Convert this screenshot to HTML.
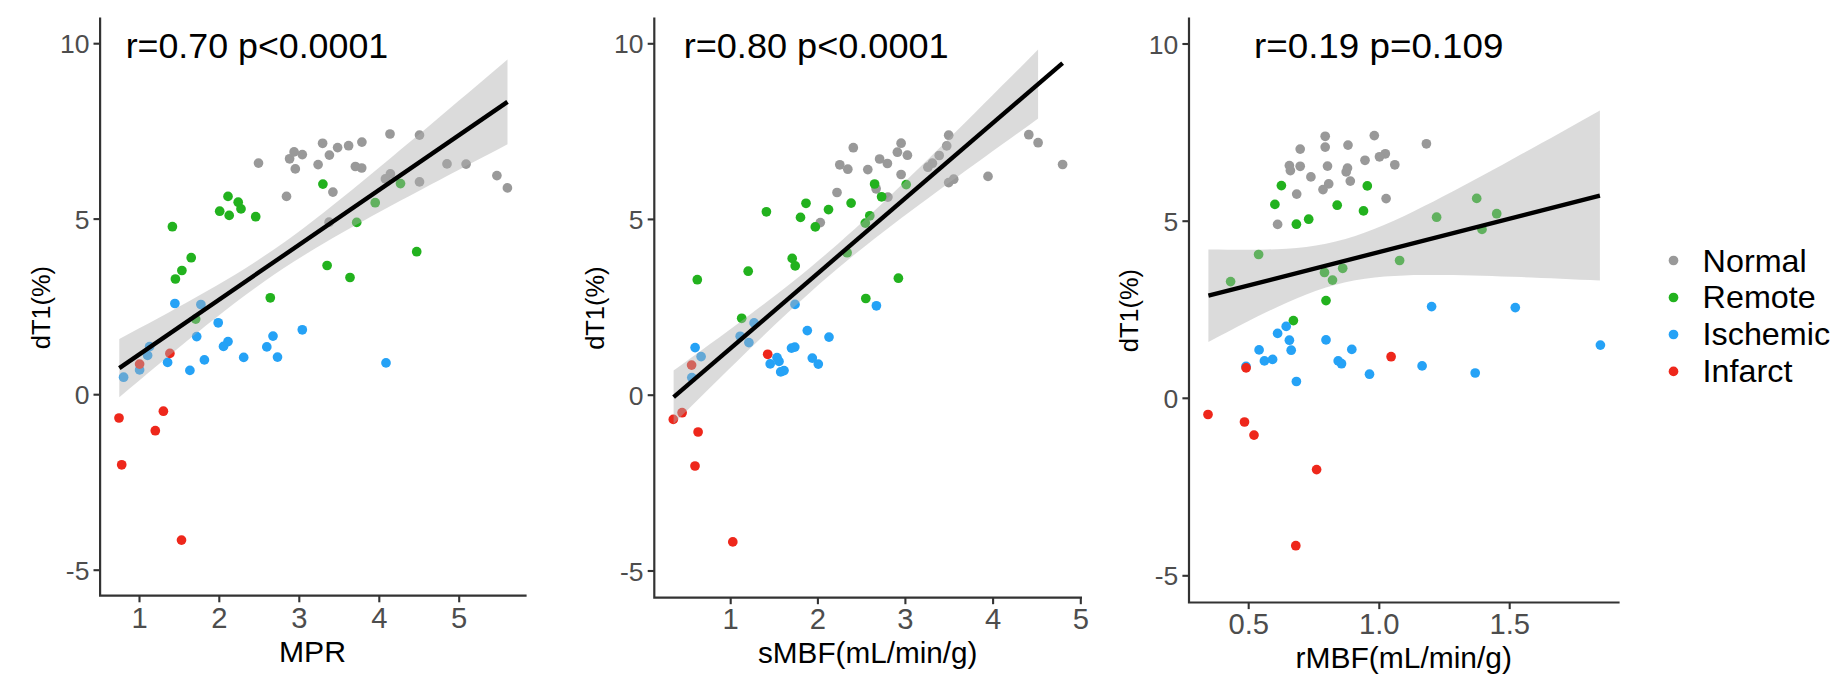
<!DOCTYPE html>
<html><head><meta charset="utf-8"><title>dT1 correlation plots</title>
<style>
html,body{margin:0;padding:0;background:#fff;}
svg{display:block;font-family:"Liberation Sans", Arial, Helvetica, sans-serif;}
</style></head>
<body>
<svg width="1834" height="695" viewBox="0 0 1834 695">
<rect width="1834" height="695" fill="#fff"/>
<g id="panel1">
<circle cx="258.5" cy="163.1" r="4.85" fill="#999999"/><circle cx="289.6" cy="158.8" r="4.85" fill="#999999"/><circle cx="294.1" cy="151.9" r="4.85" fill="#999999"/><circle cx="302.3" cy="154.6" r="4.85" fill="#999999"/><circle cx="295.3" cy="168.9" r="4.85" fill="#999999"/><circle cx="318.1" cy="164.6" r="4.85" fill="#999999"/><circle cx="322.6" cy="143.3" r="4.85" fill="#999999"/><circle cx="329.4" cy="155.1" r="4.85" fill="#999999"/><circle cx="337.6" cy="147.6" r="4.85" fill="#999999"/><circle cx="348.6" cy="145.7" r="4.85" fill="#999999"/><circle cx="361.9" cy="142.1" r="4.85" fill="#999999"/><circle cx="355.4" cy="166.5" r="4.85" fill="#999999"/><circle cx="361.7" cy="168.0" r="4.85" fill="#999999"/><circle cx="390.0" cy="134.0" r="4.85" fill="#999999"/><circle cx="419.5" cy="135.1" r="4.85" fill="#999999"/><circle cx="447.0" cy="163.9" r="4.85" fill="#999999"/><circle cx="466.1" cy="164.1" r="4.85" fill="#999999"/><circle cx="496.9" cy="175.6" r="4.85" fill="#999999"/><circle cx="507.4" cy="187.9" r="4.85" fill="#999999"/><circle cx="419.5" cy="181.9" r="4.85" fill="#999999"/><circle cx="390.4" cy="173.9" r="4.85" fill="#999999"/><circle cx="385.4" cy="178.9" r="4.85" fill="#999999"/><circle cx="332.9" cy="192.1" r="4.85" fill="#999999"/><circle cx="286.5" cy="196.4" r="4.85" fill="#999999"/><circle cx="329.1" cy="222.2" r="4.85" fill="#999999"/>
<circle cx="322.9" cy="184.1" r="4.85" fill="#22B21E"/><circle cx="228.0" cy="196.4" r="4.85" fill="#22B21E"/><circle cx="238.2" cy="202.2" r="4.85" fill="#22B21E"/><circle cx="241.0" cy="208.9" r="4.85" fill="#22B21E"/><circle cx="219.7" cy="211.2" r="4.85" fill="#22B21E"/><circle cx="229.2" cy="215.4" r="4.85" fill="#22B21E"/><circle cx="255.7" cy="216.7" r="4.85" fill="#22B21E"/><circle cx="172.4" cy="226.7" r="4.85" fill="#22B21E"/><circle cx="400.5" cy="183.6" r="4.85" fill="#22B21E"/><circle cx="375.2" cy="202.7" r="4.85" fill="#22B21E"/><circle cx="356.7" cy="222.4" r="4.85" fill="#22B21E"/><circle cx="416.7" cy="251.7" r="4.85" fill="#22B21E"/><circle cx="327.1" cy="265.5" r="4.85" fill="#22B21E"/><circle cx="191.2" cy="257.7" r="4.85" fill="#22B21E"/><circle cx="181.9" cy="270.5" r="4.85" fill="#22B21E"/><circle cx="175.4" cy="279.0" r="4.85" fill="#22B21E"/><circle cx="350.0" cy="277.5" r="4.85" fill="#22B21E"/><circle cx="270.3" cy="297.8" r="4.85" fill="#22B21E"/><circle cx="195.7" cy="319.1" r="4.85" fill="#22B21E"/>
<circle cx="174.9" cy="303.5" r="4.85" fill="#25A2F6"/><circle cx="200.9" cy="304.5" r="4.85" fill="#25A2F6"/><circle cx="218.2" cy="322.8" r="4.85" fill="#25A2F6"/><circle cx="196.7" cy="336.6" r="4.85" fill="#25A2F6"/><circle cx="302.3" cy="329.8" r="4.85" fill="#25A2F6"/><circle cx="273.0" cy="336.1" r="4.85" fill="#25A2F6"/><circle cx="266.8" cy="346.9" r="4.85" fill="#25A2F6"/><circle cx="228.0" cy="341.6" r="4.85" fill="#25A2F6"/><circle cx="223.5" cy="346.4" r="4.85" fill="#25A2F6"/><circle cx="243.7" cy="357.4" r="4.85" fill="#25A2F6"/><circle cx="277.5" cy="357.1" r="4.85" fill="#25A2F6"/><circle cx="204.4" cy="359.9" r="4.85" fill="#25A2F6"/><circle cx="189.9" cy="370.4" r="4.85" fill="#25A2F6"/><circle cx="167.6" cy="362.4" r="4.85" fill="#25A2F6"/><circle cx="386.0" cy="362.9" r="4.85" fill="#25A2F6"/><circle cx="149.6" cy="346.6" r="4.85" fill="#25A2F6"/><circle cx="147.6" cy="355.4" r="4.85" fill="#25A2F6"/><circle cx="139.6" cy="369.9" r="4.85" fill="#25A2F6"/><circle cx="123.6" cy="377.2" r="4.85" fill="#25A2F6"/>
<circle cx="169.9" cy="353.4" r="4.85" fill="#EE271B"/><circle cx="139.6" cy="364.1" r="4.85" fill="#EE271B"/><circle cx="119.0" cy="418.0" r="4.85" fill="#EE271B"/><circle cx="163.4" cy="411.2" r="4.85" fill="#EE271B"/><circle cx="155.3" cy="430.7" r="4.85" fill="#EE271B"/><circle cx="121.7" cy="464.8" r="4.85" fill="#EE271B"/><circle cx="181.5" cy="540.1" r="4.85" fill="#EE271B"/>
<path d="M119.3,339.0 L129.0,333.8 L138.7,328.6 L148.4,323.4 L158.1,318.2 L167.8,312.9 L177.5,307.6 L187.2,302.2 L196.9,296.8 L206.6,291.3 L216.3,285.7 L226.1,280.0 L235.8,274.2 L245.5,268.2 L255.2,262.0 L264.9,255.6 L274.6,249.0 L284.3,242.2 L294.0,235.2 L303.7,227.9 L313.4,220.5 L323.1,213.0 L332.8,205.3 L342.5,197.5 L352.2,189.7 L361.9,181.8 L371.6,173.8 L381.3,165.8 L391.0,157.7 L400.7,149.6 L410.4,141.5 L420.2,133.4 L429.9,125.2 L439.6,117.0 L449.3,108.8 L459.0,100.6 L468.7,92.4 L478.4,84.2 L488.1,76.0 L497.8,67.7 L507.5,59.5 L507.5,144.3 L497.8,149.4 L488.1,154.5 L478.4,159.5 L468.7,164.6 L459.0,169.7 L449.3,174.8 L439.6,179.9 L429.9,185.1 L420.2,190.2 L410.4,195.4 L400.7,200.6 L391.0,205.8 L381.3,211.1 L371.6,216.3 L361.9,221.7 L352.2,227.1 L342.5,232.5 L332.8,238.1 L323.1,243.7 L313.4,249.5 L303.7,255.4 L294.0,261.5 L284.3,267.7 L274.6,274.2 L264.9,280.9 L255.2,287.9 L245.5,295.0 L235.8,302.3 L226.1,309.8 L216.3,317.4 L206.6,325.1 L196.9,332.9 L187.2,340.8 L177.5,348.7 L167.8,356.7 L158.1,364.8 L148.4,372.8 L138.7,381.0 L129.0,389.1 L119.3,397.2Z" fill="#AFAFAF" fill-opacity="0.45"/>
<line x1="119.3" y1="368.1" x2="507.5" y2="101.9" stroke="#000" stroke-width="4.35"/>
<path d="M100.1,17.5 V595.7 H526.6" fill="none" stroke="#333333" stroke-width="2.2" stroke-linejoin="miter"/>
<line x1="93.5" y1="43.7" x2="100.1" y2="43.7" stroke="#333333" stroke-width="2.1"/>
<text x="89.4" y="53.2" font-size="26.5" text-anchor="end" fill="#4D4D4D">10</text>
<line x1="93.5" y1="219.1" x2="100.1" y2="219.1" stroke="#333333" stroke-width="2.1"/>
<text x="89.4" y="228.6" font-size="26.5" text-anchor="end" fill="#4D4D4D">5</text>
<line x1="93.5" y1="394.7" x2="100.1" y2="394.7" stroke="#333333" stroke-width="2.1"/>
<text x="89.4" y="404.2" font-size="26.5" text-anchor="end" fill="#4D4D4D">0</text>
<line x1="93.5" y1="570.2" x2="100.1" y2="570.2" stroke="#333333" stroke-width="2.1"/>
<text x="89.4" y="579.7" font-size="26.5" text-anchor="end" fill="#4D4D4D">-5</text>
<line x1="139.5" y1="595.7" x2="139.5" y2="602.3000000000001" stroke="#333333" stroke-width="2.1"/>
<text x="139.5" y="627.8" font-size="29.2" text-anchor="middle" fill="#4D4D4D">1</text>
<line x1="219.3" y1="595.7" x2="219.3" y2="602.3000000000001" stroke="#333333" stroke-width="2.1"/>
<text x="219.3" y="627.8" font-size="29.2" text-anchor="middle" fill="#4D4D4D">2</text>
<line x1="299.3" y1="595.7" x2="299.3" y2="602.3000000000001" stroke="#333333" stroke-width="2.1"/>
<text x="299.3" y="627.8" font-size="29.2" text-anchor="middle" fill="#4D4D4D">3</text>
<line x1="379.3" y1="595.7" x2="379.3" y2="602.3000000000001" stroke="#333333" stroke-width="2.1"/>
<text x="379.3" y="627.8" font-size="29.2" text-anchor="middle" fill="#4D4D4D">4</text>
<line x1="459.2" y1="595.7" x2="459.2" y2="602.3000000000001" stroke="#333333" stroke-width="2.1"/>
<text x="459.2" y="627.8" font-size="29.2" text-anchor="middle" fill="#4D4D4D">5</text>
<text x="125.7" y="58.1" font-size="35.4" text-anchor="start" fill="#000" textLength="262.5" lengthAdjust="spacingAndGlyphs">r=0.70 p&lt;0.0001</text>
<text x="279.0" y="661.8" font-size="28.6" text-anchor="start" fill="#000" textLength="67.0" lengthAdjust="spacingAndGlyphs">MPR</text>
<text transform="translate(50.0,307.6) rotate(-90)" font-size="25.8" text-anchor="middle" textLength="83.1" lengthAdjust="spacingAndGlyphs">dT1(%)</text>
</g>
<g id="panel2">
<circle cx="853.3" cy="147.7" r="4.85" fill="#999999"/><circle cx="901.1" cy="143.2" r="4.85" fill="#999999"/><circle cx="897.4" cy="152.2" r="4.85" fill="#999999"/><circle cx="907.4" cy="155.2" r="4.85" fill="#999999"/><circle cx="879.6" cy="159.0" r="4.85" fill="#999999"/><circle cx="887.4" cy="163.5" r="4.85" fill="#999999"/><circle cx="839.8" cy="164.8" r="4.85" fill="#999999"/><circle cx="847.8" cy="169.2" r="4.85" fill="#999999"/><circle cx="867.8" cy="169.6" r="4.85" fill="#999999"/><circle cx="901.1" cy="174.5" r="4.85" fill="#999999"/><circle cx="948.7" cy="135.2" r="4.85" fill="#999999"/><circle cx="946.7" cy="145.9" r="4.85" fill="#999999"/><circle cx="939.2" cy="155.5" r="4.85" fill="#999999"/><circle cx="932.4" cy="163.2" r="4.85" fill="#999999"/><circle cx="927.9" cy="167.2" r="4.85" fill="#999999"/><circle cx="953.7" cy="179.2" r="4.85" fill="#999999"/><circle cx="948.7" cy="182.6" r="4.85" fill="#999999"/><circle cx="988.0" cy="176.4" r="4.85" fill="#999999"/><circle cx="1028.8" cy="134.7" r="4.85" fill="#999999"/><circle cx="1038.1" cy="142.7" r="4.85" fill="#999999"/><circle cx="1062.6" cy="164.5" r="4.85" fill="#999999"/><circle cx="837.0" cy="192.5" r="4.85" fill="#999999"/><circle cx="876.1" cy="188.8" r="4.85" fill="#999999"/><circle cx="887.9" cy="197.1" r="4.85" fill="#999999"/><circle cx="820.3" cy="222.6" r="4.85" fill="#999999"/>
<circle cx="874.6" cy="184.0" r="4.85" fill="#22B21E"/><circle cx="906.2" cy="184.6" r="4.85" fill="#22B21E"/><circle cx="881.6" cy="196.8" r="4.85" fill="#22B21E"/><circle cx="851.1" cy="203.1" r="4.85" fill="#22B21E"/><circle cx="806.0" cy="203.3" r="4.85" fill="#22B21E"/><circle cx="828.5" cy="209.6" r="4.85" fill="#22B21E"/><circle cx="766.4" cy="211.8" r="4.85" fill="#22B21E"/><circle cx="800.5" cy="217.4" r="4.85" fill="#22B21E"/><circle cx="815.3" cy="226.9" r="4.85" fill="#22B21E"/><circle cx="869.8" cy="215.8" r="4.85" fill="#22B21E"/><circle cx="865.3" cy="223.1" r="4.85" fill="#22B21E"/><circle cx="847.1" cy="252.7" r="4.85" fill="#22B21E"/><circle cx="792.2" cy="258.4" r="4.85" fill="#22B21E"/><circle cx="795.2" cy="265.9" r="4.85" fill="#22B21E"/><circle cx="748.2" cy="271.2" r="4.85" fill="#22B21E"/><circle cx="697.3" cy="279.7" r="4.85" fill="#22B21E"/><circle cx="898.4" cy="278.2" r="4.85" fill="#22B21E"/><circle cx="865.8" cy="298.5" r="4.85" fill="#22B21E"/><circle cx="741.7" cy="318.3" r="4.85" fill="#22B21E"/>
<circle cx="795.0" cy="304.4" r="4.85" fill="#25A2F6"/><circle cx="876.4" cy="305.8" r="4.85" fill="#25A2F6"/><circle cx="754.1" cy="322.9" r="4.85" fill="#25A2F6"/><circle cx="740.2" cy="336.3" r="4.85" fill="#25A2F6"/><circle cx="748.9" cy="342.6" r="4.85" fill="#25A2F6"/><circle cx="807.3" cy="330.6" r="4.85" fill="#25A2F6"/><circle cx="829.0" cy="337.1" r="4.85" fill="#25A2F6"/><circle cx="695.1" cy="347.6" r="4.85" fill="#25A2F6"/><circle cx="701.1" cy="356.6" r="4.85" fill="#25A2F6"/><circle cx="691.8" cy="377.6" r="4.85" fill="#25A2F6"/><circle cx="791.5" cy="348.1" r="4.85" fill="#25A2F6"/><circle cx="794.8" cy="347.1" r="4.85" fill="#25A2F6"/><circle cx="777.0" cy="357.6" r="4.85" fill="#25A2F6"/><circle cx="779.0" cy="361.4" r="4.85" fill="#25A2F6"/><circle cx="770.2" cy="363.9" r="4.85" fill="#25A2F6"/><circle cx="780.7" cy="371.9" r="4.85" fill="#25A2F6"/><circle cx="784.0" cy="370.6" r="4.85" fill="#25A2F6"/><circle cx="812.3" cy="358.1" r="4.85" fill="#25A2F6"/><circle cx="818.3" cy="364.1" r="4.85" fill="#25A2F6"/>
<circle cx="767.7" cy="354.3" r="4.85" fill="#EE271B"/><circle cx="691.6" cy="365.1" r="4.85" fill="#EE271B"/><circle cx="682.1" cy="412.7" r="4.85" fill="#EE271B"/><circle cx="673.3" cy="419.4" r="4.85" fill="#EE271B"/><circle cx="698.1" cy="432.0" r="4.85" fill="#EE271B"/><circle cx="695.0" cy="466.0" r="4.85" fill="#EE271B"/><circle cx="732.8" cy="541.9" r="4.85" fill="#EE271B"/>
<path d="M673.6,370.5 L682.7,363.9 L691.8,357.3 L700.9,350.7 L710.0,344.0 L719.2,337.4 L728.3,330.7 L737.4,323.9 L746.5,317.2 L755.6,310.3 L764.7,303.4 L773.8,296.4 L782.9,289.4 L792.1,282.2 L801.2,274.9 L810.3,267.4 L819.4,259.8 L828.5,252.1 L837.6,244.2 L846.7,236.1 L855.8,227.9 L865.0,219.5 L874.1,211.1 L883.2,202.5 L892.3,193.8 L901.4,185.0 L910.5,176.2 L919.6,167.4 L928.8,158.4 L937.9,149.5 L947.0,140.5 L956.1,131.5 L965.2,122.5 L974.3,113.4 L983.4,104.3 L992.5,95.2 L1001.6,86.1 L1010.8,77.0 L1019.9,67.9 L1029.0,58.8 L1038.1,49.6 L1038.1,118.6 L1029.0,125.2 L1019.9,131.7 L1010.8,138.2 L1001.6,144.8 L992.5,151.3 L983.4,157.9 L974.3,164.5 L965.2,171.0 L956.1,177.7 L947.0,184.3 L937.9,191.0 L928.8,197.7 L919.6,204.4 L910.5,211.2 L901.4,218.0 L892.3,224.9 L883.2,231.9 L874.1,239.0 L865.0,246.2 L855.8,253.4 L846.7,260.9 L837.6,268.5 L828.5,276.2 L819.4,284.1 L810.3,292.2 L801.2,300.4 L792.1,308.7 L782.9,317.2 L773.8,325.8 L764.7,334.5 L755.6,343.2 L746.5,352.0 L737.4,360.9 L728.3,369.8 L719.2,378.8 L710.0,387.7 L700.9,396.8 L691.8,405.8 L682.7,414.8 L673.6,423.9Z" fill="#AFAFAF" fill-opacity="0.45"/>
<line x1="673.6" y1="397.2" x2="1062.6" y2="63.1" stroke="#000" stroke-width="4.35"/>
<path d="M654.3,17.5 V597.6 H1082" fill="none" stroke="#333333" stroke-width="2.2" stroke-linejoin="miter"/>
<line x1="647.6999999999999" y1="43.8" x2="654.3" y2="43.8" stroke="#333333" stroke-width="2.1"/>
<text x="643.6" y="53.3" font-size="26.5" text-anchor="end" fill="#4D4D4D">10</text>
<line x1="647.6999999999999" y1="219.4" x2="654.3" y2="219.4" stroke="#333333" stroke-width="2.1"/>
<text x="643.6" y="228.9" font-size="26.5" text-anchor="end" fill="#4D4D4D">5</text>
<line x1="647.6999999999999" y1="395.2" x2="654.3" y2="395.2" stroke="#333333" stroke-width="2.1"/>
<text x="643.6" y="404.7" font-size="26.5" text-anchor="end" fill="#4D4D4D">0</text>
<line x1="647.6999999999999" y1="571" x2="654.3" y2="571" stroke="#333333" stroke-width="2.1"/>
<text x="643.6" y="580.5" font-size="26.5" text-anchor="end" fill="#4D4D4D">-5</text>
<line x1="730.7" y1="597.6" x2="730.7" y2="604.2" stroke="#333333" stroke-width="2.1"/>
<text x="730.7" y="629.3" font-size="29.2" text-anchor="middle" fill="#4D4D4D">1</text>
<line x1="817.9" y1="597.6" x2="817.9" y2="604.2" stroke="#333333" stroke-width="2.1"/>
<text x="817.9" y="629.3" font-size="29.2" text-anchor="middle" fill="#4D4D4D">2</text>
<line x1="905.4" y1="597.6" x2="905.4" y2="604.2" stroke="#333333" stroke-width="2.1"/>
<text x="905.4" y="629.3" font-size="29.2" text-anchor="middle" fill="#4D4D4D">3</text>
<line x1="993.1" y1="597.6" x2="993.1" y2="604.2" stroke="#333333" stroke-width="2.1"/>
<text x="993.1" y="629.3" font-size="29.2" text-anchor="middle" fill="#4D4D4D">4</text>
<line x1="1080.8" y1="597.6" x2="1080.8" y2="604.2" stroke="#333333" stroke-width="2.1"/>
<text x="1080.8" y="629.3" font-size="29.2" text-anchor="middle" fill="#4D4D4D">5</text>
<text x="683.7" y="58.0" font-size="35.4" text-anchor="start" fill="#000" textLength="265.0" lengthAdjust="spacingAndGlyphs">r=0.80 p&lt;0.0001</text>
<text x="758.0" y="663.1" font-size="28.6" text-anchor="start" fill="#000" textLength="219.5" lengthAdjust="spacingAndGlyphs">sMBF(mL/min/g)</text>
<text transform="translate(604.1,308.2) rotate(-90)" font-size="25.8" text-anchor="middle" textLength="83.3" lengthAdjust="spacingAndGlyphs">dT1(%)</text>
</g>
<g id="panel3">
<circle cx="1325.2" cy="136.3" r="4.85" fill="#999999"/><circle cx="1374.3" cy="135.6" r="4.85" fill="#999999"/><circle cx="1300.2" cy="149.1" r="4.85" fill="#999999"/><circle cx="1325.2" cy="147.1" r="4.85" fill="#999999"/><circle cx="1348.0" cy="145.1" r="4.85" fill="#999999"/><circle cx="1426.4" cy="143.8" r="4.85" fill="#999999"/><circle cx="1385.3" cy="153.8" r="4.85" fill="#999999"/><circle cx="1379.5" cy="156.8" r="4.85" fill="#999999"/><circle cx="1365.0" cy="160.3" r="4.85" fill="#999999"/><circle cx="1394.8" cy="164.8" r="4.85" fill="#999999"/><circle cx="1289.4" cy="165.6" r="4.85" fill="#999999"/><circle cx="1290.4" cy="170.6" r="4.85" fill="#999999"/><circle cx="1300.2" cy="166.3" r="4.85" fill="#999999"/><circle cx="1327.5" cy="166.1" r="4.85" fill="#999999"/><circle cx="1347.5" cy="168.1" r="4.85" fill="#999999"/><circle cx="1346.2" cy="171.9" r="4.85" fill="#999999"/><circle cx="1310.9" cy="176.9" r="4.85" fill="#999999"/><circle cx="1350.3" cy="181.1" r="4.85" fill="#999999"/><circle cx="1328.7" cy="183.9" r="4.85" fill="#999999"/><circle cx="1323.0" cy="189.6" r="4.85" fill="#999999"/><circle cx="1296.7" cy="194.1" r="4.85" fill="#999999"/><circle cx="1386.1" cy="198.6" r="4.85" fill="#999999"/><circle cx="1277.6" cy="224.4" r="4.85" fill="#999999"/>
<circle cx="1281.4" cy="185.6" r="4.85" fill="#22B21E"/><circle cx="1367.3" cy="185.9" r="4.85" fill="#22B21E"/><circle cx="1274.9" cy="204.4" r="4.85" fill="#22B21E"/><circle cx="1337.2" cy="205.2" r="4.85" fill="#22B21E"/><circle cx="1363.5" cy="210.9" r="4.85" fill="#22B21E"/><circle cx="1308.7" cy="219.2" r="4.85" fill="#22B21E"/><circle cx="1296.4" cy="224.2" r="4.85" fill="#22B21E"/><circle cx="1476.7" cy="198.4" r="4.85" fill="#22B21E"/><circle cx="1496.7" cy="213.7" r="4.85" fill="#22B21E"/><circle cx="1436.6" cy="217.2" r="4.85" fill="#22B21E"/><circle cx="1482.0" cy="229.4" r="4.85" fill="#22B21E"/><circle cx="1258.6" cy="254.5" r="4.85" fill="#22B21E"/><circle cx="1399.6" cy="260.5" r="4.85" fill="#22B21E"/><circle cx="1342.7" cy="268.3" r="4.85" fill="#22B21E"/><circle cx="1324.5" cy="272.5" r="4.85" fill="#22B21E"/><circle cx="1332.5" cy="280.1" r="4.85" fill="#22B21E"/><circle cx="1230.6" cy="281.6" r="4.85" fill="#22B21E"/><circle cx="1326.0" cy="300.6" r="4.85" fill="#22B21E"/><circle cx="1293.4" cy="320.6" r="4.85" fill="#22B21E"/>
<circle cx="1431.6" cy="306.6" r="4.85" fill="#25A2F6"/><circle cx="1515.3" cy="307.6" r="4.85" fill="#25A2F6"/><circle cx="1600.4" cy="345.1" r="4.85" fill="#25A2F6"/><circle cx="1286.2" cy="326.4" r="4.85" fill="#25A2F6"/><circle cx="1277.6" cy="333.4" r="4.85" fill="#25A2F6"/><circle cx="1289.4" cy="340.2" r="4.85" fill="#25A2F6"/><circle cx="1326.0" cy="339.9" r="4.85" fill="#25A2F6"/><circle cx="1291.2" cy="350.2" r="4.85" fill="#25A2F6"/><circle cx="1259.1" cy="349.9" r="4.85" fill="#25A2F6"/><circle cx="1351.8" cy="349.4" r="4.85" fill="#25A2F6"/><circle cx="1264.4" cy="360.9" r="4.85" fill="#25A2F6"/><circle cx="1272.6" cy="359.4" r="4.85" fill="#25A2F6"/><circle cx="1338.2" cy="360.9" r="4.85" fill="#25A2F6"/><circle cx="1341.5" cy="363.7" r="4.85" fill="#25A2F6"/><circle cx="1369.5" cy="374.2" r="4.85" fill="#25A2F6"/><circle cx="1422.1" cy="365.9" r="4.85" fill="#25A2F6"/><circle cx="1475.2" cy="373.0" r="4.85" fill="#25A2F6"/><circle cx="1296.4" cy="381.5" r="4.85" fill="#25A2F6"/><circle cx="1246.0" cy="366.4" r="4.85" fill="#25A2F6"/>
<circle cx="1391.1" cy="356.7" r="4.85" fill="#EE271B"/><circle cx="1246.1" cy="367.9" r="4.85" fill="#EE271B"/><circle cx="1208.0" cy="414.5" r="4.85" fill="#EE271B"/><circle cx="1244.5" cy="422.0" r="4.85" fill="#EE271B"/><circle cx="1254.0" cy="435.1" r="4.85" fill="#EE271B"/><circle cx="1316.6" cy="469.6" r="4.85" fill="#EE271B"/><circle cx="1295.8" cy="545.7" r="4.85" fill="#EE271B"/>
<path d="M1208.4,249.4 L1218.2,249.6 L1228.0,249.7 L1237.8,249.8 L1247.6,249.8 L1257.3,249.7 L1267.1,249.5 L1276.9,249.2 L1286.7,248.7 L1296.5,247.9 L1306.3,246.9 L1316.1,245.5 L1325.9,243.8 L1335.6,241.6 L1345.4,239.1 L1355.2,236.0 L1365.0,232.6 L1374.8,228.8 L1384.6,224.8 L1394.4,220.4 L1404.2,215.9 L1413.9,211.2 L1423.7,206.3 L1433.5,201.4 L1443.3,196.3 L1453.1,191.2 L1462.9,186.0 L1472.7,180.8 L1482.5,175.5 L1492.2,170.2 L1502.0,164.9 L1511.8,159.5 L1521.6,154.1 L1531.4,148.7 L1541.2,143.3 L1551.0,137.9 L1560.8,132.5 L1570.5,127.0 L1580.3,121.5 L1590.1,116.1 L1599.9,110.6 L1599.9,280.6 L1590.1,280.1 L1580.3,279.7 L1570.5,279.2 L1560.8,278.8 L1551.0,278.3 L1541.2,277.9 L1531.4,277.5 L1521.6,277.1 L1511.8,276.7 L1502.0,276.4 L1492.2,276.0 L1482.5,275.7 L1472.7,275.5 L1462.9,275.3 L1453.1,275.1 L1443.3,275.0 L1433.5,274.9 L1423.7,275.0 L1413.9,275.1 L1404.2,275.4 L1394.4,275.9 L1384.6,276.6 L1374.8,277.5 L1365.0,278.7 L1355.2,280.3 L1345.4,282.3 L1335.6,284.7 L1325.9,287.5 L1316.1,290.8 L1306.3,294.5 L1296.5,298.5 L1286.7,302.7 L1276.9,307.2 L1267.1,311.8 L1257.3,316.6 L1247.6,321.6 L1237.8,326.6 L1228.0,331.7 L1218.2,336.8 L1208.4,342.0Z" fill="#AFAFAF" fill-opacity="0.45"/>
<line x1="1208.4" y1="295.7" x2="1599.9" y2="195.6" stroke="#000" stroke-width="4.35"/>
<path d="M1189.0,17.5 V602.5 H1619.6" fill="none" stroke="#333333" stroke-width="2.2" stroke-linejoin="miter"/>
<line x1="1182.4" y1="44" x2="1189.0" y2="44" stroke="#333333" stroke-width="2.1"/>
<text x="1178.3" y="53.5" font-size="26.5" text-anchor="end" fill="#4D4D4D">10</text>
<line x1="1182.4" y1="221.2" x2="1189.0" y2="221.2" stroke="#333333" stroke-width="2.1"/>
<text x="1178.3" y="230.7" font-size="26.5" text-anchor="end" fill="#4D4D4D">5</text>
<line x1="1182.4" y1="398.3" x2="1189.0" y2="398.3" stroke="#333333" stroke-width="2.1"/>
<text x="1178.3" y="407.8" font-size="26.5" text-anchor="end" fill="#4D4D4D">0</text>
<line x1="1182.4" y1="575.8" x2="1189.0" y2="575.8" stroke="#333333" stroke-width="2.1"/>
<text x="1178.3" y="585.3" font-size="26.5" text-anchor="end" fill="#4D4D4D">-5</text>
<line x1="1248.7" y1="602.5" x2="1248.7" y2="609.1" stroke="#333333" stroke-width="2.1"/>
<text x="1248.7" y="634.4" font-size="29.2" text-anchor="middle" fill="#4D4D4D">0.5</text>
<line x1="1379.3" y1="602.5" x2="1379.3" y2="609.1" stroke="#333333" stroke-width="2.1"/>
<text x="1379.3" y="634.4" font-size="29.2" text-anchor="middle" fill="#4D4D4D">1.0</text>
<line x1="1509.7" y1="602.5" x2="1509.7" y2="609.1" stroke="#333333" stroke-width="2.1"/>
<text x="1509.7" y="634.4" font-size="29.2" text-anchor="middle" fill="#4D4D4D">1.5</text>
<text x="1254.0" y="58.0" font-size="35.4" text-anchor="start" fill="#000" textLength="249.4" lengthAdjust="spacingAndGlyphs">r=0.19 p=0.109</text>
<text x="1295.5" y="667.9" font-size="28.6" text-anchor="start" fill="#000" textLength="216.5" lengthAdjust="spacingAndGlyphs">rMBF(mL/min/g)</text>
<text transform="translate(1138.3,310.6) rotate(-90)" font-size="25.8" text-anchor="middle" textLength="83.1" lengthAdjust="spacingAndGlyphs">dT1(%)</text>
</g>
<g id="legend">
<circle cx="1673.5" cy="260.5" r="4.85" fill="#999999"/>
<text transform="translate(1702.6,271.7) scale(1.036,1)" font-size="31.2">Normal</text>
<circle cx="1673.5" cy="297.5" r="4.85" fill="#22B21E"/>
<text transform="translate(1702.6,308.4) scale(1.036,1)" font-size="31.2">Remote</text>
<circle cx="1673.5" cy="334.5" r="4.85" fill="#25A2F6"/>
<text transform="translate(1702.6,345.1) scale(1.036,1)" font-size="31.2">Ischemic</text>
<circle cx="1673.5" cy="371.4" r="4.85" fill="#EE271B"/>
<text transform="translate(1702.6,382.0) scale(1.036,1)" font-size="31.2">Infarct</text>
</g>
</svg>
</body></html>
